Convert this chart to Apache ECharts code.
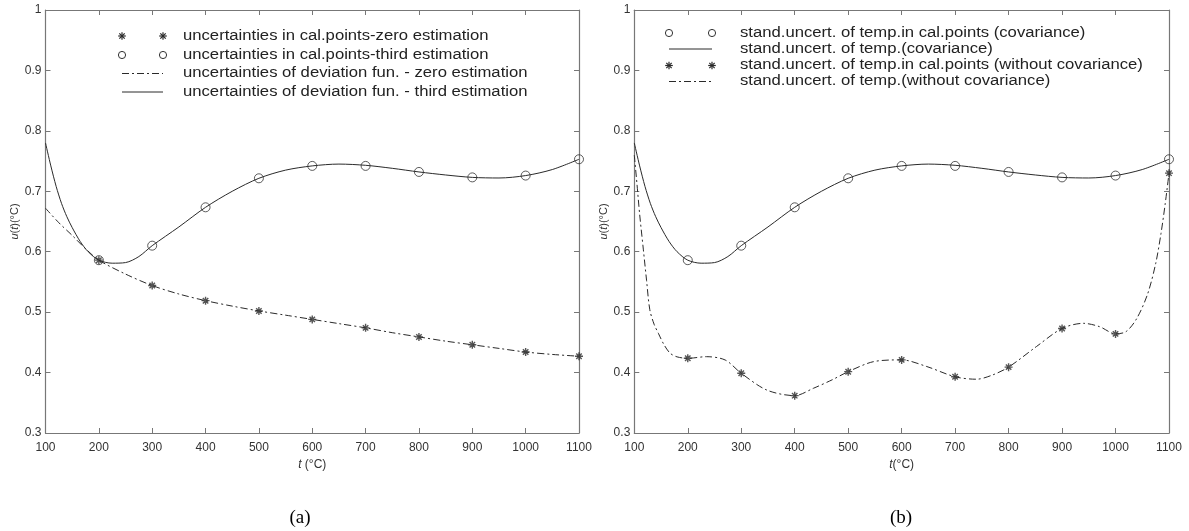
<!DOCTYPE html>
<html>
<head>
<meta charset="utf-8">
<script src="https://cdn.jsdelivr.net/npm/echarts@6/dist/echarts.min.js"></script>
<style>
  html, body { margin: 0; padding: 0; background: #fff; }
  #chart { width: 1189px; height: 531px; }
</style>
</head>
<body>
<div id="chart"></div>
<script>
(function () {
    "use strict";

    // calibration points
    var calT = [200, 300, 400, 500, 600, 700, 800, 900, 1000, 1100];
    var ptsZeroA = [0.586, 0.544, 0.519, 0.502, 0.488, 0.474, 0.459, 0.446, 0.434, 0.427];
    var ptsThird = [0.586, 0.610, 0.6735, 0.7215, 0.742, 0.742, 0.732, 0.723, 0.726, 0.753];
    var ptsNoCovB = [0.4236, 0.3988, 0.3618, 0.4015, 0.421, 0.393, 0.409, 0.473, 0.464, 0.730];

    // curve read-offs, third estimation / covariance (same in both panels)
    var thirdT = [100, 110, 120, 130, 140, 150, 165, 180, 200, 225, 250, 275, 300, 350, 400, 450, 500,
                  550, 600, 650, 700, 750, 800, 850, 900, 950, 1000, 1050, 1100];
    var thirdU = [0.780, 0.742, 0.708, 0.680, 0.658, 0.640, 0.617, 0.600, 0.586, 0.581, 0.582, 0.592, 0.610,
                  0.641, 0.6735, 0.700, 0.7215, 0.735, 0.742, 0.745, 0.743, 0.738, 0.732, 0.727, 0.723,
                  0.722, 0.726, 0.736, 0.753];

    // zero estimation curve, panel (a)
    var zeroT = [100, 125, 150, 175, 200, 250, 300, 350, 400, 450, 500, 550, 600, 650, 700, 750, 800,
                 850, 900, 950, 1000, 1050, 1100];
    var zeroU = [0.672, 0.648, 0.627, 0.605, 0.586, 0.563, 0.544, 0.530, 0.519, 0.510, 0.502, 0.495, 0.488,
                 0.481, 0.474, 0.466, 0.459, 0.452, 0.446, 0.440, 0.434, 0.430, 0.427];

    // without covariance curve, panel (b)
    var noCovT = [100, 105, 110, 117, 123, 129, 137, 145, 155, 167, 180, 200, 235, 270, 300, 348, 400,
                  435, 470, 500, 547, 600, 647, 700, 740, 770, 800, 852, 900, 940, 970, 1000, 1020,
                  1040, 1060, 1075, 1085, 1093, 1100];
    var noCovU = [0.760, 0.712, 0.662, 0.603, 0.552, 0.504, 0.480, 0.465, 0.447, 0.432, 0.426, 0.4236,
                  0.4263, 0.4208, 0.3988, 0.371, 0.3618, 0.374, 0.388, 0.4015, 0.418, 0.421, 0.410,
                  0.393, 0.389, 0.396, 0.409, 0.443, 0.473, 0.4815, 0.476, 0.464, 0.468, 0.490, 0.530,
                  0.580, 0.630, 0.680, 0.730];

    var legendA = [
        'uncertainties in cal.points-zero estimation',
        'uncertainties in cal.points-third estimation',
        'uncertainties of deviation fun. - zero estimation',
        'uncertainties of deviation fun. - third estimation'
    ];
    var legendB = [
        'stand.uncert. of temp.in cal.points (covariance)',
        'stand.uncert. of temp.(covariance)',
        'stand.uncert. of temp.in cal.points (without covariance)',
        'stand.uncert. of temp.(without covariance)'
    ];

    function pairs(xs, ys) {
        return xs.map(function (x, i) { return [x, ys[i]]; });
    }

    var INK = '#2a2a2a';
    var DASHDOT = [7, 3, 2, 3];
    var STAR = 'path://M5,0L5,10M0,5L10,5M1.6,1.6L8.4,8.4M1.6,8.4L8.4,1.6';
    var FONT = '"Liberation Sans", Arial, sans-serif';

    var grids = [
        {left: 45.5, top: 10, width: 533.5, height: 423},
        {left: 634.3, top: 10, width: 534.7, height: 423}
    ];

    function xAxes(g, nameTxt) {
        var base = {
            gridIndex: g, type: 'value', min: 100, max: 1100, interval: 100,
            axisLine: {onZero: false, lineStyle: {color: '#777', width: 1.2}},
            axisTick: {inside: true, length: 5, lineStyle: {color: '#777'}},
            splitLine: {show: false}
        };
        return [
            Object.assign({}, base, {
                position: 'bottom',
                name: nameTxt, nameLocation: 'middle', nameGap: 24,
                nameTextStyle: {fontFamily: FONT, fontSize: 12, color: '#333',
                    rich: {i: {fontStyle: 'italic', fontFamily: FONT, fontSize: 12, color: '#333'}}},
                axisLabel: {fontFamily: FONT, fontSize: 12, color: '#333', margin: 9,
                    formatter: function (v) { return String(v); }}
            }),
            Object.assign({}, base, {position: 'top', axisLabel: {show: false}})
        ];
    }

    function yAxes(g, gap) {
        var base = {
            gridIndex: g, type: 'value', min: 0.3, max: 1, interval: 0.1,
            axisLine: {onZero: false, lineStyle: {color: '#777', width: 1.2}},
            axisTick: {inside: true, length: 5, lineStyle: {color: '#777'}},
            splitLine: {show: false}
        };
        return [
            Object.assign({}, base, {
                position: 'left',
                name: '{i|u}({i|t})(°C)', nameLocation: 'middle', nameGap: gap,
                nameTextStyle: {fontFamily: FONT, fontSize: 11, color: '#333',
                    rich: {i: {fontStyle: 'italic', fontFamily: FONT, fontSize: 11, color: '#333'}}},
                axisLabel: {fontFamily: FONT, fontSize: 12, color: '#333', margin: 4}
            }),
            Object.assign({}, base, {position: 'right', axisLabel: {show: false}})
        ];
    }

    function lineSeries(ax, data, dashed) {
        return {
            type: 'line', xAxisIndex: ax, yAxisIndex: ax, data: data,
            smooth: 0.3, symbol: 'none', silent: true,
            lineStyle: {color: INK, width: 1, type: dashed ? DASHDOT : 'solid'},
            z: 2
        };
    }
    function starSeries(ax, data) {
        return {
            type: 'scatter', xAxisIndex: ax, yAxisIndex: ax, data: data,
            symbol: STAR, symbolSize: 8, silent: true,
            itemStyle: {color: INK, borderColor: INK, borderWidth: 1.4},
            z: 3
        };
    }
    function ringSeries(ax, data) {
        return {
            type: 'scatter', xAxisIndex: ax, yAxisIndex: ax, data: data,
            symbol: 'circle', symbolSize: 9, silent: true,
            itemStyle: {color: 'rgba(0,0,0,0)', borderColor: '#333', borderWidth: 1},
            z: 3
        };
    }

    // legend drawing helpers
    function star(cx, cy) {
        var r = 3.8, d = 2.7;
        var segs = [[cx, cy - r, cx, cy + r], [cx - r, cy, cx + r, cy],
                    [cx - d, cy - d, cx + d, cy + d], [cx - d, cy + d, cx + d, cy - d]];
        return segs.map(function (s) {
            return {type: 'line', shape: {x1: s[0], y1: s[1], x2: s[2], y2: s[3]},
                    style: {stroke: INK, lineWidth: 1.2}};
        });
    }
    function ring(cx, cy) {
        return [{type: 'circle', shape: {cx: cx, cy: cy, r: 3.6},
                 style: {fill: 'none', stroke: '#333', lineWidth: 1}}];
    }
    function seg(x1, x2, y, dashed) {
        return [{type: 'line', shape: {x1: x1, y1: y, x2: x2, y2: y},
                 style: {stroke: INK, lineWidth: 1, lineDash: dashed ? DASHDOT : null}}];
    }
    function label(x, y, txt) {
        return {type: 'text', x: x, y: y, scaleX: 1.19,
                style: {text: txt, fill: '#222', font: '14px ' + FONT,
                        textAlign: 'left', textVerticalAlign: 'middle'}};
    }

    var gfx = [];
    // panel (a) legend
    var aX1 = 122, aX2 = 163, aTx = 183, aRows = [36, 55, 73.5, 92];
    gfx = gfx.concat(star(aX1, aRows[0]), star(aX2, aRows[0]));
    gfx = gfx.concat(ring(aX1, aRows[1]), ring(aX2, aRows[1]));
    gfx = gfx.concat(seg(aX1, aX2, aRows[2], true), seg(aX1, aX2, aRows[3], false));
    legendA.forEach(function (t, i) { gfx.push(label(aTx, aRows[i], t)); });
    // panel (b) legend
    var bX1 = 669, bX2 = 712, bTx = 740, bRows = [33, 49, 65.5, 81.5];
    gfx = gfx.concat(ring(bX1, bRows[0]), ring(bX2, bRows[0]));
    gfx = gfx.concat(seg(bX1, bX2, bRows[1], false));
    gfx = gfx.concat(star(bX1, bRows[2]), star(bX2, bRows[2]));
    gfx = gfx.concat(seg(bX1, bX2, bRows[3], true));
    legendB.forEach(function (t, i) { gfx.push(label(bTx, bRows[i], t)); });
    // panel captions
    gfx.push({type: 'text', x: 300, y: 518, style: {text: '(a)', fill: '#000',
              font: '19px "Liberation Serif", "Times New Roman", serif', textAlign: 'center', textVerticalAlign: 'middle'}});
    gfx.push({type: 'text', x: 901, y: 518, style: {text: '(b)', fill: '#000',
              font: '19px "Liberation Serif", "Times New Roman", serif', textAlign: 'center', textVerticalAlign: 'middle'}});

    var chart = echarts.init(document.getElementById('chart'), null, {renderer: 'canvas'});
    var option = {
        backgroundColor: '#fff',
        animation: false,
        grid: grids,
        xAxis: xAxes(0, '{i|t} (°C)').concat(xAxes(1, '{i|t}(°C)')),
        yAxis: yAxes(0, 23).concat(yAxes(1, 20)),
        series: [
            lineSeries(0, pairs(zeroT, zeroU), true),
            lineSeries(0, pairs(thirdT, thirdU), false),
            starSeries(0, pairs(calT, ptsZeroA)),
            ringSeries(0, pairs(calT, ptsThird)),
            lineSeries(2, pairs(thirdT, thirdU), false),
            lineSeries(2, pairs(noCovT, noCovU), true),
            ringSeries(2, pairs(calT, ptsThird)),
            starSeries(2, pairs(calT, ptsNoCovB))
        ],
        graphic: {elements: gfx}
    };
    chart.setOption(option);
})();
</script>
</body>
</html>
